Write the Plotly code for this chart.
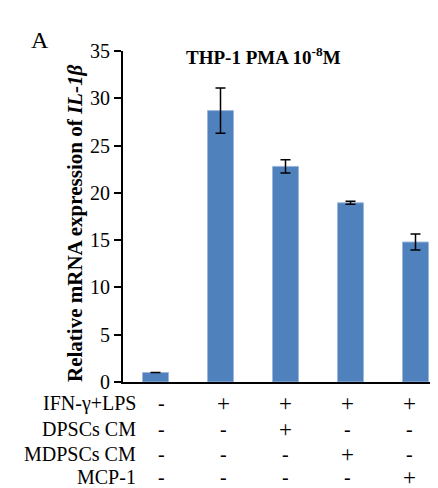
import plotly.graph_objects as go

categories = ["Control", "IFN-γ+LPS", "+DPSCs CM", "+MDPSCs CM", "+MCP-1"]
values = [1.0, 28.7, 22.8, 18.95, 14.8]
errors = [0.0, 2.4, 0.7, 0.15, 0.85]
y_ticks = [0, 5, 10, 15, 20, 25, 30, 35]

row_labels = ["IFN-γ+LPS", "DPSCs CM", "MDPSCs CM", "MCP-1"]
row_signs = [
    ["-", "+", "+", "+", "+"],
    ["-", "-", "+", "-", "-"],
    ["-", "-", "-", "+", "-"],
    ["-", "-", "-", "-", "+"],
]

# page body has an 8px margin; work in window pixels and offset
OFF = 8
WIN_W, WIN_H = 438, 488
W, H = WIN_W - OFF, WIN_H - OFF
L_win, T_win, Y0_win = 123, 51, 382
L = L_win - OFF
T = T_win - OFF
B = H - (Y0_win - OFF)
plot_w = W - L
plot_h = H - T - B
cat_px = 65.0

serif = "Liberation Serif, Times New Roman, serif"

fig = go.Figure()
fig.add_bar(
    x=list(range(len(categories))),
    y=values,
    width=0.4,
    marker=dict(color="#4F81BD", line=dict(color="#9DB7DD", width=1)),
    error_y=dict(type="data", array=errors, visible=True, color="black", thickness=1.5, width=5),
)

def px_to_px(px):
    return (px - L_win) / plot_w

def py_to_py(py):
    return (Y0_win - py) / plot_h

annotations = []
annotations.append(dict(text="A", x=px_to_px(29), y=py_to_py(25), xref="paper", yref="paper",
                        showarrow=False, font=dict(family=serif, size=24, color="black")))
annotations.append(dict(text="<b>THP-1 PMA 10<sup>-8</sup>M</b>", x=px_to_px(263), y=py_to_py(42),
                        xref="paper", yref="paper", showarrow=False,
                        font=dict(family=serif, size=19, color="black")))
annotations.append(dict(text="<b>Relative mRNA expression of <i>IL-1β</i></b>", x=px_to_px(61),
                        y=py_to_py(224), xref="paper", yref="paper", showarrow=False, textangle=-90,
                        font=dict(family=serif, size=21, color="black")))

row_py = [403, 429, 454, 477]
col_shift = [6, 3, 0, -3, -6]
for r, lab in enumerate(row_labels):
    annotations.append(dict(text=lab, x=px_to_px(138), y=py_to_py(row_py[r]), xref="paper", yref="paper",
                            xanchor="right", yanchor="middle", showarrow=False, height=22,
                            font=dict(family=serif, size=20, color="black")))
    for c, s in enumerate(row_signs[r]):
        annotations.append(dict(text=s, x=c, y=py_to_py(row_py[r]), xref="x", yref="paper",
                                xshift=col_shift[c], yanchor="middle", showarrow=False, height=22,
                                font=dict(family=serif, size=23 if s == "+" else 20, color="black")))

fig.update_layout(
    width=W, height=H,
    margin=dict(l=L, r=0, t=T, b=B, pad=0),
    paper_bgcolor="white", plot_bgcolor="white",
    showlegend=False,
    annotations=annotations,
    xaxis=dict(range=[-0.5, -0.5 + plot_w / cat_px], showticklabels=False, ticks="",
               showline=True, linecolor="black", linewidth=2, showgrid=False, zeroline=False,
               fixedrange=True),
    yaxis=dict(range=[0, 35], tickvals=y_ticks, ticks="outside", ticklen=7, tickwidth=2,
               tickcolor="black", showline=True, linecolor="black", linewidth=2,
               showgrid=False, zeroline=False,
               tickfont=dict(family=serif, size=20, color="black"), fixedrange=True),
)

fig.write_html("out.html")
